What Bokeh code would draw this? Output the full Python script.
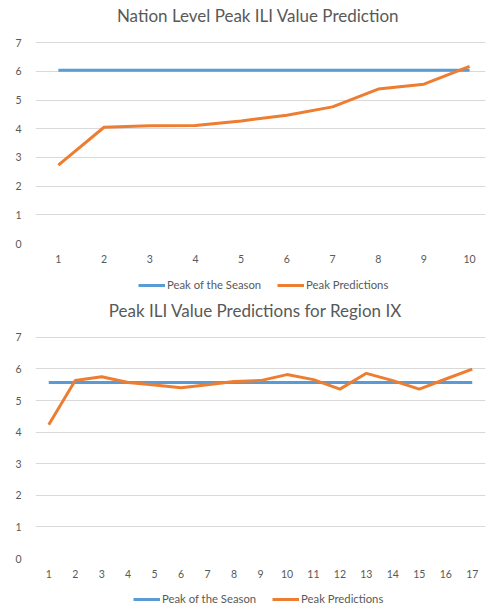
from bokeh.plotting import figure
from bokeh.layouts import column
from bokeh.models import Range1d, FixedTicker, Legend, LegendItem, Label
from bokeh.embed import file_html
from bokeh.resources import INLINE

# ---- data ----
nation_x = [1, 2, 3, 4, 5, 6, 7, 8, 9, 10]
nation_season_peak = [6.04, 6.04, 6.04, 6.04, 6.04, 6.04, 6.04, 6.04, 6.04, 6.04]
nation_predictions = [2.73, 4.05, 4.10, 4.11, 4.27, 4.47, 4.76, 5.38, 5.55, 6.17]

region_x = [1, 2, 3, 4, 5, 6, 7, 8, 9, 10, 11, 12, 13, 14, 15, 16, 17]
region_season_peak = [5.57, 5.57, 5.57, 5.57, 5.57, 5.57, 5.57, 5.57, 5.57,
                      5.57, 5.57, 5.57, 5.57, 5.57, 5.57, 5.57, 5.57]
region_predictions = [4.23, 5.63, 5.75, 5.57, 5.49, 5.40, 5.50, 5.60, 5.63,
                      5.82, 5.66, 5.36, 5.86, 5.63, 5.36, 5.68, 5.99]

y_ticks = [0, 1, 2, 3, 4, 5, 6, 7]

titles = ["Nation Level Peak ILI Value Prediction", "Peak ILI Value Predictions for Region IX"]
series_names = ["Peak of the Season", "Peak Predictions"]

BLUE = "#5b9bd5"
ORANGE = "#ed7d31"
GREY = "#595959"
GRID = "#d9d9d9"
FONT = "Lato"
W = 487


def make_chart(title, xs, season, preds, height, border_left, border_right, border_bottom,
               px_per_x, px_per_y, title_dx, title_dy):
    frame_w = W - border_left - border_right
    frame_h = height - border_bottom
    x_end = 0.5 + frame_w / px_per_x
    y_end = frame_h / px_per_y
    p = figure(width=W, height=height, output_backend="svg", toolbar_location=None,
               x_range=Range1d(0.5, x_end), y_range=Range1d(0, y_end),
               min_border_left=border_left, min_border_right=border_right,
               min_border_top=0, min_border_bottom=border_bottom)
    p.outline_line_color = None

    p.line(xs, season, line_color=BLUE, line_width=3)
    p.line(xs, preds, line_color=ORANGE, line_width=3)

    p.xgrid.grid_line_color = None
    p.ygrid.grid_line_color = GRID
    p.ygrid.ticker = FixedTicker(ticks=y_ticks)

    p.xaxis.ticker = FixedTicker(ticks=xs)
    p.yaxis.ticker = FixedTicker(ticks=y_ticks)
    for ax in (p.xaxis[0], p.yaxis[0]):
        ax.axis_line_color = None
        ax.major_tick_line_color = None
        ax.minor_tick_line_color = None
        ax.major_label_text_color = GREY
        ax.major_label_text_font = FONT
        ax.major_label_text_font_size = "10.5px"
    p.xaxis.major_label_standoff = 5
    p.yaxis.major_label_standoff = 8

    # chart title, placed in the empty band above the plotted area
    p.add_layout(Label(x=0.5 + title_dx / px_per_x, y=(frame_h - title_dy) / px_per_y,
                       text=title, text_align="center", text_baseline="middle",
                       text_font=FONT, text_font_size="17px", text_color=GREY))
    return p


def make_legend(height, x_left, y_bottom):
    q = figure(width=W, height=height, output_backend="svg", toolbar_location=None,
               x_axis_location=None, y_axis_location=None,
               x_range=Range1d(0, 1), y_range=Range1d(0, 1),
               min_border_left=0, min_border_right=0,
               min_border_top=0, min_border_bottom=0)
    q.outline_line_color = None
    q.grid.grid_line_color = None
    # legend-only renderers kept outside the visible range
    r1 = q.line([5, 6], [5, 5], line_color=BLUE, line_width=3)
    r2 = q.line([5, 6], [5, 5], line_color=ORANGE, line_width=3)
    legend = Legend(items=[LegendItem(label=series_names[0], renderers=[r1]),
                           LegendItem(label=series_names[1], renderers=[r2])],
                    orientation="horizontal", location=(x_left, y_bottom),
                    border_line_color=None, background_fill_alpha=0,
                    label_text_font=FONT, label_text_font_size="11.3px",
                    label_text_color=GREY, glyph_width=27, glyph_height=10,
                    label_standoff=2, spacing=16, padding=0, margin=0)
    q.add_layout(legend)
    return q


p1 = make_chart(titles[0], nation_x, nation_season_peak, nation_predictions,
                height=272, border_left=34, border_right=0, border_bottom=29,
                px_per_x=46, px_per_y=28.7, title_dx=224, title_dy=15)
l1 = make_legend(24, 103, 5)
p2 = make_chart(titles[1], region_x, region_season_peak, region_predictions,
                height=292, border_left=35, border_right=2, border_bottom=30,
                px_per_x=26.47, px_per_y=31.6, title_dx=220, title_dy=14)
l2 = make_legend(18, 98, 1)

layout = column(p1, l1, p2, l2, spacing=0)
open("out.html", "w").write(file_html(layout, INLINE))
